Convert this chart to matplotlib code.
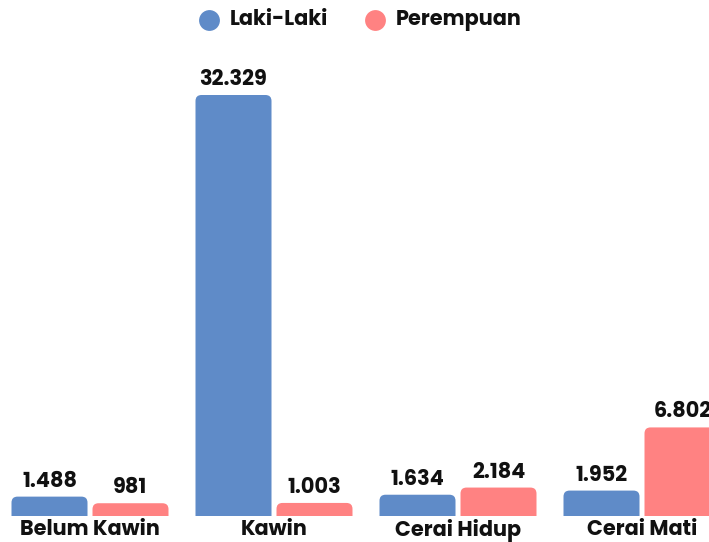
import matplotlib.pyplot as plt
from matplotlib.patches import FancyBboxPatch
from matplotlib.lines import Line2D

categories = ['Belum Kawin', 'Kawin', 'Cerai Hidup', 'Cerai Mati']
laki = [1488, 32329, 1634, 1952]
perempuan = [981, 1003, 2184, 6802]
series_names = ['Laki-Laki', 'Perempuan']
colors = ['#5f8bc8', '#ff8282']


def fmt(v):
    return f'{v:,}'.replace(',', '.')


plt.rcParams['font.family'] = ['Poppins', 'Inter', 'DejaVu Sans']

W, H = 709, 542
fig = plt.figure(figsize=(W / 100, H / 100), dpi=100)
# axes span full width; baseline 26px above bottom
ax = fig.add_axes([0, 26 / H, 1, 516 / H])
ymax = max(laki) * 516 / 421
ax.set_xlim(-90 / 184, 3 + 67 / 184)
ax.set_ylim(0, ymax)
ax.axis('off')

width = 76 / 184
offset = 40.5 / 184
radius = 6 / 184
aspect = (ymax / 516) * 184  # data-y per px / data-x per px
px_y = ymax / 516

for i, cat in enumerate(categories):
    for j, vals in enumerate([laki, perempuan]):
        v = vals[i]
        x0 = i + (j - 0.5) * 2 * offset - width / 2
        # extend below baseline so bottom corners are clipped
        patch = FancyBboxPatch((x0, -20 * px_y), width, v + 20 * px_y,
                               boxstyle=f'round,pad=0,rounding_size={radius}',
                               mutation_aspect=aspect, facecolor=colors[j],
                               edgecolor='none', clip_on=True)
        ax.add_patch(patch)
        ax.text(x0 + width / 2, v + 10 * px_y, fmt(v), ha='center', va='baseline',
                fontsize=15, fontweight='bold', color='#111111')
    fig.text((90 + 184 * i) / W, 1 - 530 / H, cat, ha='center', va='center',
             fontsize=15, fontweight='bold', color='#111111')

# legend drawn by hand at the top
for name, c, cx in zip(series_names, colors, [209, 375]):
    fig.add_artist(Line2D([cx / W], [1 - 20 / H], marker='o', markersize=15,
                          markerfacecolor=c, markeredgecolor='none',
                          linestyle='none', transform=fig.transFigure))
    fig.text((cx + 21) / W, 1 - 20 / H, name, ha='left', va='center',
             fontsize=15, fontweight='bold', color='#111111')

fig.savefig('out.png', dpi=100)
